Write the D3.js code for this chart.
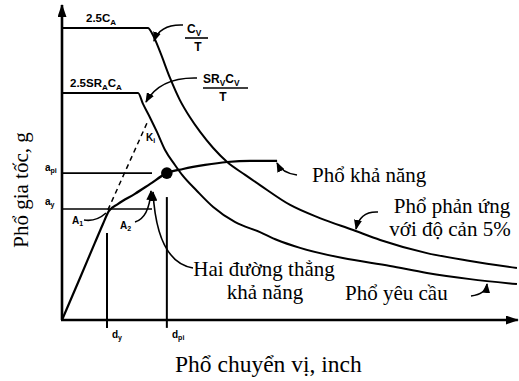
<!DOCTYPE html>
<html>
<head>
<meta charset="utf-8">
<script src="https://cdn.jsdelivr.net/npm/d3@7"></script>
<style>
  body { margin: 0; background: #fff; }
  svg { display: block; }
</style>
</head>
<body>
<svg id="chart" width="519" height="381"></svg>
<script>
// ADRS format: spectral displacement Sd (inch) vs spectral acceleration Sa (g)

// Elastic response spectrum, 5% damping (plateau 2.5C_A, then C_V/T branch)
const elasticSd = [0, 1.91, 2.02, 2.18, 2.40, 2.62, 2.84, 3.07, 3.36, 3.67, 4.07, 4.40, 5.07, 5.73, 6.47, 7.07, 8.11, 9.07, 10.11];
const elasticSa = [1.0, 1.0, 0.976, 0.918, 0.829, 0.753, 0.695, 0.644, 0.589, 0.541, 0.497, 0.462, 0.394, 0.349, 0.308, 0.274, 0.229, 0.202, 0.178];

// Reduced (demand) spectrum (plateau 2.5SR_A C_A, then SR_V C_V/T branch)
const demandSd = [0, 1.69, 1.80, 1.96, 2.11, 2.29, 2.51, 2.67, 3.00, 3.36, 3.84, 4.40, 4.78, 5.29, 6.24, 7.29, 8.11, 9.07, 10.11];
const demandSa = [0.777, 0.777, 0.740, 0.692, 0.644, 0.582, 0.531, 0.497, 0.442, 0.387, 0.336, 0.301, 0.274, 0.247, 0.212, 0.185, 0.161, 0.140, 0.123];

// Capacity spectrum
const capacitySd = [0, 0.40, 0.73, 0.91, 1.04, 1.24, 1.62, 1.96, 2.33, 2.69, 3.18, 3.67, 4.18, 4.78];
const capacitySa = [0, 0.144, 0.264, 0.329, 0.373, 0.397, 0.432, 0.466, 0.503, 0.517, 0.531, 0.541, 0.545, 0.545];

// Bilinear representation: yield point (d_y, a_y) and trial performance point (d_pi, a_pi)
const yieldPoint = [1.0, 0.380];
const perfPoint = [2.33, 0.503];
// Initial stiffness K_i (dashed)
const kiSd = [1.02, 1.89];
const kiSa = [0.377, 0.675];
// Extent of the guide lines
const guideEndSd = 2.0;
const dyTopSa = 0.298, dpiTopSa = 0.421, guideBottomSa = -0.027;
// Axis extents
const axisMaxSd = 10.13, axisMaxSa = 1.079;

const svg = d3.select("#chart");
const x = d3.scaleLinear().domain([0, 10]).range([62, 512]);
const y = d3.scaleLinear().domain([0, 1]).range([320, 28]);

const serif = "'Liberation Serif', 'Times New Roman', serif";
const sans = "'Liberation Sans', Arial, Helvetica, sans-serif";

const defs = svg.append("defs");
defs.append("marker")
  .attr("id", "head")
  .attr("markerUnits", "userSpaceOnUse")
  .attr("markerWidth", 10).attr("markerHeight", 8)
  .attr("refX", 9).attr("refY", 4)
  .attr("orient", "auto")
  .append("path").attr("d", "M0,0 L10,4 L0,8 Z").attr("fill", "#000");
defs.append("marker")
  .attr("id", "axisHead")
  .attr("markerUnits", "userSpaceOnUse")
  .attr("markerWidth", 13).attr("markerHeight", 9)
  .attr("refX", 12).attr("refY", 4.5)
  .attr("orient", "auto")
  .append("path").attr("d", "M0,0 L13,4.5 L0,9 Z").attr("fill", "#000");

// Axes
svg.append("line")
  .attr("x1", x(0)).attr("y1", y(0)).attr("x2", x(0)).attr("y2", y(axisMaxSa))
  .attr("stroke", "#000").attr("stroke-width", 2.6).attr("marker-end", "url(#axisHead)");
svg.append("line")
  .attr("x1", x(0) - 1).attr("y1", y(0)).attr("x2", x(axisMaxSd)).attr("y2", y(0))
  .attr("stroke", "#000").attr("stroke-width", 2.6).attr("marker-end", "url(#axisHead)");

const zip = (a, b) => a.map((v, i) => [v, b[i]]);
const line = d3.line().x(d => x(d[0])).y(d => y(d[1])).curve(d3.curveMonotoneX);

svg.append("path").datum(zip(elasticSd, elasticSa)).attr("d", line)
  .attr("fill", "none").attr("stroke", "#000").attr("stroke-width", 2);
svg.append("path").datum(zip(demandSd, demandSa)).attr("d", line)
  .attr("fill", "none").attr("stroke", "#000").attr("stroke-width", 2);
svg.append("path").datum(zip(capacitySd, capacitySa)).attr("d", line)
  .attr("fill", "none").attr("stroke", "#000").attr("stroke-width", 2.2);

// Guide lines for a_y, a_pi, d_y, d_pi
[yieldPoint[1], perfPoint[1]].forEach(a => {
  svg.append("line")
    .attr("x1", x(0)).attr("x2", x(guideEndSd)).attr("y1", y(a)).attr("y2", y(a))
    .attr("stroke", "#000").attr("stroke-width", 1.6);
});
[[yieldPoint[0], dyTopSa], [perfPoint[0], dpiTopSa]].forEach(([d, top]) => {
  svg.append("line")
    .attr("x1", x(d)).attr("x2", x(d)).attr("y1", y(top)).attr("y2", y(guideBottomSa))
    .attr("stroke", "#000").attr("stroke-width", 2);
});

// Initial stiffness line
svg.append("line")
  .attr("x1", x(kiSd[0])).attr("y1", y(kiSa[0])).attr("x2", x(kiSd[1])).attr("y2", y(kiSa[1]))
  .attr("stroke", "#000").attr("stroke-width", 1.5).attr("stroke-dasharray", "5,4");

// Performance point
svg.append("circle").attr("cx", x(perfPoint[0])).attr("cy", y(perfPoint[1])).attr("r", 5.8).attr("fill", "#000");

// Leader lines
const leaders = [
  { d: "M183,25 Q160,24 154,41", head: true },
  { d: "M197,78 Q160,77 146,102", head: true },
  { d: "M84,220 Q96,222 106,213", head: false },
  { d: "M135,222 Q149,218 151,191", head: true },
  { d: "M193,268 Q157,262 153,192", head: true },
  { d: "M297,175 Q282,173 277,163", head: true },
  { d: "M378,212 Q360,211 356,229", head: true },
  { d: "M471,296 Q486,294 487,284", head: true }
];
leaders.forEach(l => {
  svg.append("path").attr("d", l.d).attr("fill", "none")
    .attr("stroke", "#000").attr("stroke-width", 1.6)
    .attr("marker-end", l.head ? "url(#head)" : null);
});

// Bold symbol labels with subscripts
function symLabel(px, py, parts, size, anchor) {
  const t = svg.append("text").attr("x", px).attr("y", py)
    .attr("font-family", sans).attr("font-weight", "bold").attr("font-size", size)
    .attr("text-anchor", anchor || "start");
  const drop = size * 0.22;
  let lowered = false;
  parts.forEach(p => {
    if (typeof p === "string") {
      t.append("tspan").attr("dy", lowered ? -drop : 0).text(p);
      lowered = false;
    } else {
      t.append("tspan").attr("font-size", size * 0.7).attr("dy", lowered ? 0 : drop).text(p.sub);
      lowered = true;
    }
  });
  return t;
}

symLabel(86, 22, ["2.5C", { sub: "A" }], 11.5);
symLabel(70, 87, ["2.5SR", { sub: "A" }, "C", { sub: "A" }], 11.5);
symLabel(187, 33, ["C", { sub: "V" }], 12);
svg.append("line").attr("x1", 185).attr("x2", 208).attr("y1", 38).attr("y2", 38).attr("stroke", "#000").attr("stroke-width", 1.6);
symLabel(198, 51, ["T"], 12, "middle");
symLabel(203, 83, ["SR", { sub: "V" }, "C", { sub: "V" }], 12);
svg.append("line").attr("x1", 203).attr("x2", 248).attr("y1", 88).attr("y2", 88).attr("stroke", "#000").attr("stroke-width", 1.6);
symLabel(223, 101, ["T"], 12, "middle");
symLabel(146, 141, ["K", { sub: "i" }], 10);
symLabel(45, 171, ["a", { sub: "pi" }], 10);
symLabel(45, 205, ["a", { sub: "y" }], 10);
symLabel(112, 338, ["d", { sub: "y" }], 10);
symLabel(172, 338, ["d", { sub: "pi" }], 10);
symLabel(72, 224, ["A", { sub: "1" }], 10);
symLabel(120, 229, ["A", { sub: "2" }], 10);

// Descriptive labels
function serifText(px, py, str, anchor, size) {
  return svg.append("text").attr("x", px).attr("y", py)
    .attr("font-family", serif).attr("font-size", size || 21)
    .attr("text-anchor", anchor || "start").attr("fill", "#000").text(str);
}
serifText(312, 182, "Phổ khả năng");
serifText(452, 213, "Phổ phản ứng", "middle");
serifText(450, 236, "với độ cản 5%", "middle");
serifText(264, 276, "Hai đường thẳng", "middle");
serifText(265, 299, "khả năng", "middle");
serifText(345, 300, "Phổ yêu cầu");
serifText(175, 372, "Phổ chuyển vị, inch", "start", 23.5);

svg.append("text")
  .attr("transform", "translate(28,190) rotate(-90)")
  .attr("font-family", serif).attr("font-size", 21)
  .attr("text-anchor", "middle").text("Phổ gia tốc, g");
</script>
</body>
</html>
